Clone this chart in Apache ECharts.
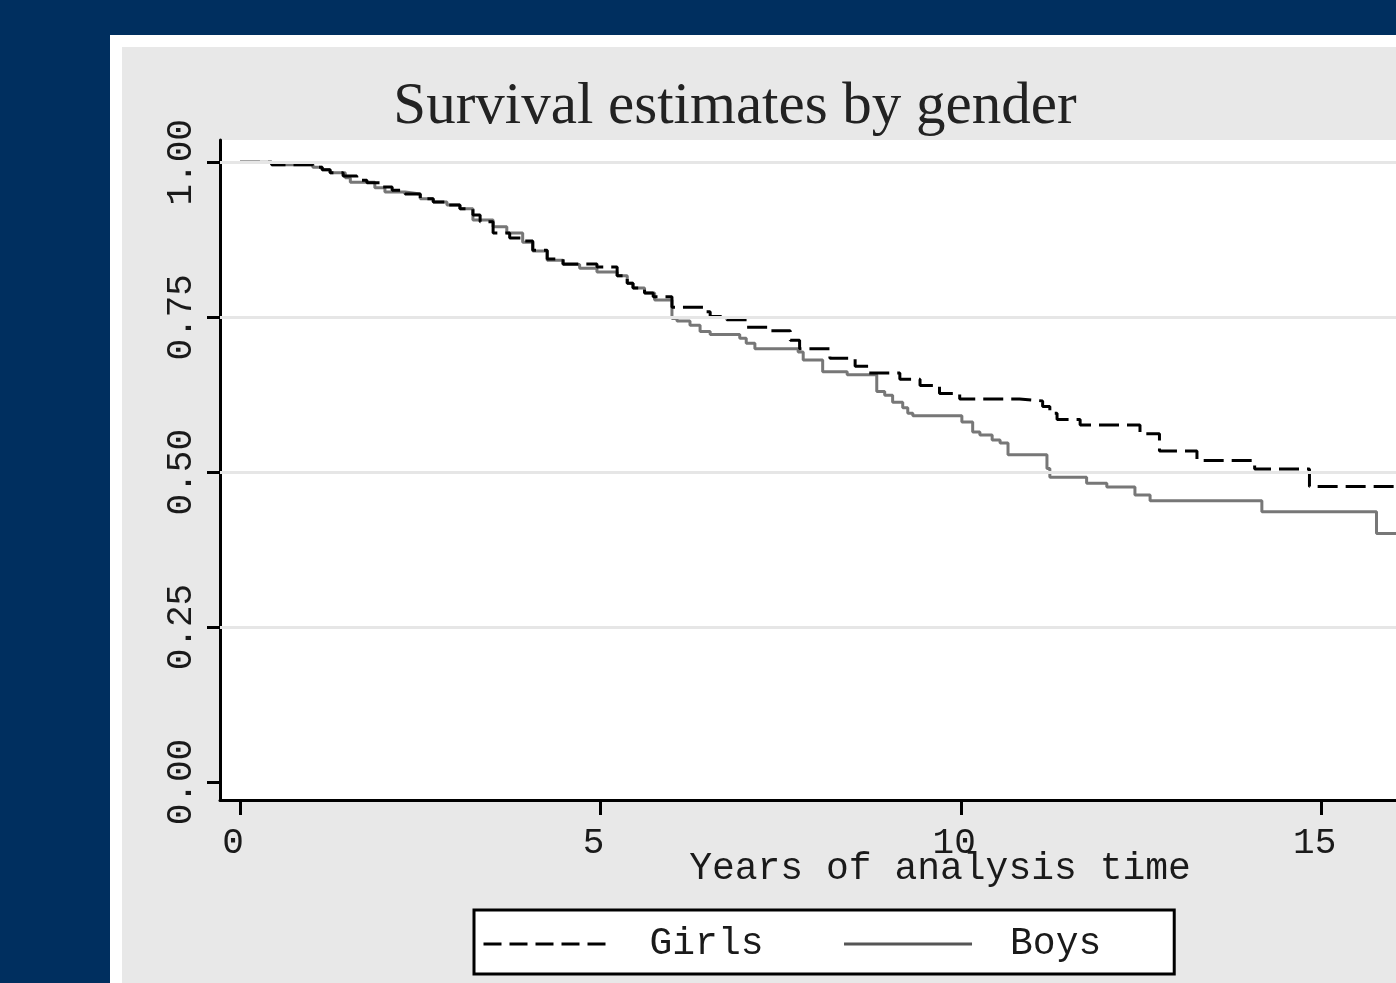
<!DOCTYPE html>
<html>
<head>
<meta charset="utf-8">
<script src="https://cdn.jsdelivr.net/npm/echarts@6/dist/echarts.min.js"></script>
<style>
html,body{margin:0;padding:0;background:#002f5f;}
#c{width:1396px;height:983px;}
</style>
</head>
<body>
<div id="c"></div>
<script>
// ---------------- data ----------------
const titleText = 'Survival estimates by gender';
const xAxisTitle = 'Years of analysis time';
const seriesNames = ['Girls', 'Boys'];
const xTickValues = [0, 5, 10, 15];
const xTickLabels = ['0', '5', '10', '15'];
const yTickValues = [0, 0.25, 0.5, 0.75, 1];
const yTickLabels = ['0.00', '0.25', '0.50', '0.75', '1.00'];

const girlsTime = [0, 0.44, 1.01, 1.14, 1.25, 1.43, 1.62, 1.76, 1.94, 2.11, 2.29, 2.50, 2.68, 2.87, 3.05, 3.23, 3.33, 3.51, 3.74, 3.92, 4.06, 4.26, 4.48, 4.95, 5.23, 5.37, 5.45, 5.61, 5.73, 5.99, 6.42, 6.52, 6.75, 7.03, 7.35, 7.63, 7.76, 8.18, 8.53, 8.71, 9.15, 9.43, 9.70, 9.98, 10.81, 11.13, 11.23, 11.33, 11.65, 12.48, 12.75, 13.27, 14.07, 14.83, 16.5];
const girlsSurv = [1.000, 0.996, 0.992, 0.988, 0.983, 0.978, 0.971, 0.967, 0.960, 0.955, 0.949, 0.941, 0.936, 0.931, 0.925, 0.915, 0.904, 0.886, 0.878, 0.873, 0.858, 0.844, 0.836, 0.831, 0.817, 0.805, 0.797, 0.789, 0.783, 0.766, 0.759, 0.751, 0.746, 0.734, 0.728, 0.713, 0.699, 0.684, 0.671, 0.660, 0.650, 0.640, 0.627, 0.618, 0.615, 0.606, 0.595, 0.585, 0.576, 0.562, 0.534, 0.519, 0.505, 0.477, 0.477];

const boysTime = [0, 0.44, 1.01, 1.14, 1.25, 1.46, 1.53, 1.87, 2.01, 2.29, 2.50, 2.68, 2.87, 3.05, 3.23, 3.51, 3.70, 3.92, 4.06, 4.26, 4.48, 4.71, 4.95, 5.23, 5.37, 5.45, 5.61, 5.75, 5.99, 6.06, 6.24, 6.38, 6.52, 6.93, 7.02, 7.14, 7.74, 7.81, 8.08, 8.42, 8.83, 8.94, 9.05, 9.19, 9.26, 9.33, 10.01, 10.16, 10.26, 10.43, 10.54, 10.65, 11.19, 11.23, 11.74, 12.02, 12.41, 12.62, 14.17, 15.76, 16.5];
const boysSurv = [1.000, 0.996, 0.992, 0.988, 0.983, 0.975, 0.968, 0.959, 0.952, 0.949, 0.941, 0.936, 0.931, 0.925, 0.907, 0.896, 0.886, 0.871, 0.857, 0.842, 0.835, 0.829, 0.823, 0.817, 0.805, 0.797, 0.789, 0.778, 0.748, 0.744, 0.737, 0.727, 0.722, 0.716, 0.708, 0.699, 0.694, 0.681, 0.662, 0.657, 0.630, 0.624, 0.613, 0.604, 0.595, 0.591, 0.581, 0.565, 0.560, 0.552, 0.547, 0.528, 0.506, 0.492, 0.482, 0.476, 0.463, 0.454, 0.436, 0.401, 0.401];

// ---------------- chart ----------------
const mono = '"Liberation Mono", "DejaVu Sans Mono", monospace';
const chart = echarts.init(document.getElementById('c'), null, {renderer: 'canvas', width: 1396, height: 983});

const option = {
  backgroundColor: '#002f5f',
  animation: false,
  title: {
    text: titleText,
    left: 730,
    top: 73,
    textAlign: 'center',
    textStyle: {fontFamily: '"Liberation Serif", "Times New Roman", serif', fontSize: 59, fontWeight: 'normal', color: '#222222'}
  },
  graphic: [
    {type: 'rect', z: -20, silent: true, shape: {x: 110, y: 35, width: 1300, height: 960}, style: {fill: '#ffffff'}},
    {type: 'rect', z: -19, silent: true, shape: {x: 122, y: 47, width: 1290, height: 950}, style: {fill: '#e8e8e8'}},
    {type: 'text', z: 10, x: 940, y: 869, style: {text: xAxisTitle, font: '38px "Liberation Mono", monospace', fill: '#1a1a1a', align: 'center', verticalAlign: 'middle'}}
  ],
  grid: {
    left: 220, right: 0, top: 140, bottom: 183,
    show: true, backgroundColor: '#ffffff', borderWidth: 0
  },
  legend: {
    data: [
      {name: seriesNames[0], lineStyle: {color: '#000000', width: 3, type: [18, 8]}},
      {name: seriesNames[1], lineStyle: {color: '#555555', width: 3, type: 'solid'}}
    ],
    left: 474, top: 910,
    orient: 'horizontal',
    itemWidth: 128, itemHeight: 14,
    itemGap: 79,
    padding: [15, 73, 11, 8],
    backgroundColor: '#ffffff', borderColor: '#000000', borderWidth: 3, borderRadius: 0,
    selectedMode: false,
    itemStyle: {color: 'rgba(0,0,0,0)', borderWidth: 0, opacity: 0},
    textStyle: {fontFamily: mono, fontSize: 38, color: '#1a1a1a', padding: [0, 0, 0, 33]}
  },
  xAxis: {
    type: 'value',
    min: -0.277, max: 16.03,
    axisLine: {show: true, onZero: false, lineStyle: {color: '#000', width: 3}},
    axisTick: {show: true, customValues: xTickValues, length: 15, lineStyle: {color: '#000', width: 3}},
    axisLabel: {
      show: true, customValues: xTickValues,
      formatter: v => xTickLabels[xTickValues.indexOf(v)],
      fontFamily: mono, fontSize: 36, color: '#1a1a1a', margin: 25, padding: [0, 14, 0, 0]
    },
    splitLine: {show: false}
  },
  yAxis: {
    type: 'value',
    min: -0.029, max: 1.036,
    axisLine: {show: true, onZero: false, lineStyle: {color: '#000', width: 3}},
    axisTick: {show: true, customValues: yTickValues, length: 13, lineStyle: {color: '#000', width: 3}},
    axisLabel: {
      show: true, customValues: yTickValues, rotate: 90,
      formatter: v => yTickLabels[yTickValues.indexOf(v)],
      fontFamily: mono, fontSize: 36, color: '#1a1a1a', margin: 21
    },
    splitLine: {show: false}
  },
  series: [
    {
      type: 'line', data: [], z: 1, silent: true,
      markLine: {
        silent: true, symbol: 'none', animation: false,
        label: {show: false},
        lineStyle: {color: '#e6e6e6', width: 3, type: 'solid'},
        data: yTickValues.filter(v => v > 0).map(v => ({yAxis: v}))
      }
    },
    {
      name: 'Boys', type: 'line', step: 'end', z: 2,
      data: boysTime.map((t, i) => [t, boysSurv[i]]),
      symbol: 'none', showSymbol: false,
      lineStyle: {color: '#777777', width: 3},
      itemStyle: {color: '#777777'}
    },
    {
      name: 'Girls', type: 'line', step: 'end', z: 3,
      data: girlsTime.map((t, i) => [t, girlsSurv[i]]),
      symbol: 'none', showSymbol: false,
      lineStyle: {color: '#000000', width: 3, type: [20, 8]},
      itemStyle: {color: '#000000'}
    }
  ]
};
chart.setOption(option);
</script>
</body>
</html>
